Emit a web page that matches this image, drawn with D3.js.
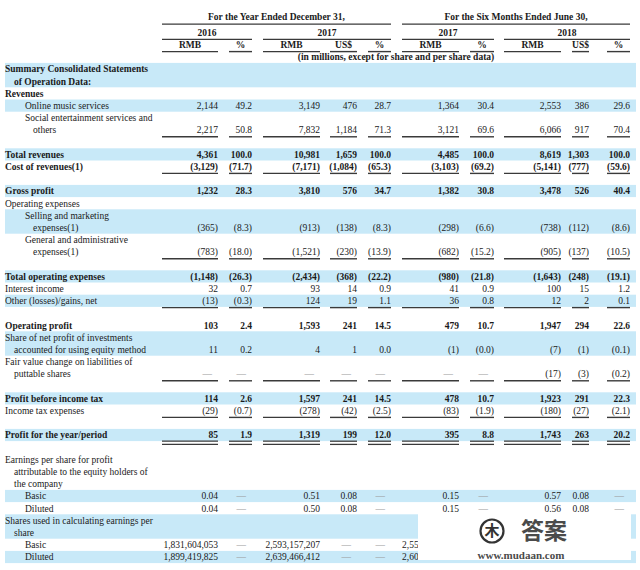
<!DOCTYPE html>
<html lang="en">
<head>
<meta charset="UTF-8">
<title>Summary Consolidated Statements of Operation Data</title>
<script src="https://d3js.org/d3.v7.min.js"></script>
<style>
  body { margin: 0; background: #fff; }
  svg text { font-family: "Liberation Serif", "Times New Roman", serif; font-size: 9.5px; fill: #1a1a1a; }
  .bold { font-weight: bold; }
</style>
</head>
<body>
<svg width="640" height="570"></svg>
<script>
// ---- data ----
const colKeys = ["y16rmb", "y16pct", "y17rmb", "y17usd", "y17pct", "h17rmb", "h17pct", "h18rmb", "h18usd", "h18pct"];
const colUnits = ["RMB", "%", "RMB", "US$", "%", "RMB", "%", "RMB", "US$", "%"];
const periodGroups = [
  { text: "For the Year Ended December 31,", from: "y16rmb", to: "y17pct" },
  { text: "For the Six Months Ended June 30,", from: "h17rmb", to: "h18pct" }
];
const yearGroups = [
  { text: "2016", from: "y16rmb", to: "y16pct" },
  { text: "2017", from: "y17rmb", to: "y17pct" },
  { text: "2017", from: "h17rmb", to: "h17pct" },
  { text: "2018", from: "h18rmb", to: "h18pct" }
];
const unitNote = "(in millions, except for share and per share data)";

const rowLabels = [
  ["Summary Consolidated Statements", "of Operation Data:"],
  ["Revenues"],
  ["Online music services"],
  ["Social entertainment services and", "others"],
  ["Total revenues"],
  ["Cost of revenues(1)"],
  ["Gross profit"],
  ["Operating expenses"],
  ["Selling and marketing", "expenses(1)"],
  ["General and administrative", "expenses(1)"],
  ["Total operating expenses"],
  ["Interest income"],
  ["Other (losses)/gains, net"],
  ["Operating profit"],
  ["Share of net profit of investments", "accounted for using equity method"],
  ["Fair value change on liabilities of", "puttable shares"],
  ["Profit before income tax"],
  ["Income tax expenses"],
  ["Profit for the year/period"],
  ["Earnings per share for profit", "attributable to the equity holders of", "the company"],
  ["Basic"],
  ["Diluted"],
  ["Shares used in calculating earnings per", "share"],
  ["Basic"],
  ["Diluted"]
];
// indent level of every label line
const labelLevels = [
  [0, 1], [0], [2], [2, 3], [0], [0], [0], [0], [2, 3], [2, 3], [0], [0], [0], [0],
  [0, 1], [0, 1], [0], [0], [0], [0, 1, 1], [2], [2], [0, 1], [2], [2]
];

const D = "—";
const rowValues = [
  null,
  null,
  ["2,144", "49.2", "3,149", "476", "28.7", "1,364", "30.4", "2,553", "386", "29.6"],
  ["2,217", "50.8", "7,832", "1,184", "71.3", "3,121", "69.6", "6,066", "917", "70.4"],
  ["4,361", "100.0", "10,981", "1,659", "100.0", "4,485", "100.0", "8,619", "1,303", "100.0"],
  ["(3,129)", "(71.7)", "(7,171)", "(1,084)", "(65.3)", "(3,103)", "(69.2)", "(5,141)", "(777)", "(59.6)"],
  ["1,232", "28.3", "3,810", "576", "34.7", "1,382", "30.8", "3,478", "526", "40.4"],
  null,
  ["(365)", "(8.3)", "(913)", "(138)", "(8.3)", "(298)", "(6.6)", "(738)", "(112)", "(8.6)"],
  ["(783)", "(18.0)", "(1,521)", "(230)", "(13.9)", "(682)", "(15.2)", "(905)", "(137)", "(10.5)"],
  ["(1,148)", "(26.3)", "(2,434)", "(368)", "(22.2)", "(980)", "(21.8)", "(1,643)", "(248)", "(19.1)"],
  ["32", "0.7", "93", "14", "0.9", "41", "0.9", "100", "15", "1.2"],
  ["(13)", "(0.3)", "124", "19", "1.1", "36", "0.8", "12", "2", "0.1"],
  ["103", "2.4", "1,593", "241", "14.5", "479", "10.7", "1,947", "294", "22.6"],
  ["11", "0.2", "4", "1", "0.0", "(1)", "(0.0)", "(7)", "(1)", "(0.1)"],
  [D, D, D, D, D, D, D, "(17)", "(3)", "(0.2)"],
  ["114", "2.6", "1,597", "241", "14.5", "478", "10.7", "1,923", "291", "22.3"],
  ["(29)", "(0.7)", "(278)", "(42)", "(2.5)", "(83)", "(1.9)", "(180)", "(27)", "(2.1)"],
  ["85", "1.9", "1,319", "199", "12.0", "395", "8.8", "1,743", "263", "20.2"],
  null,
  ["0.04", D, "0.51", "0.08", D, "0.15", D, "0.57", "0.08", D],
  ["0.04", D, "0.50", "0.08", D, "0.15", D, "0.56", "0.08", D],
  null,
  ["1,831,604,053", D, "2,593,157,207", D, D, "2,55", null, null, null, null],
  ["1,899,419,825", D, "2,639,466,412", D, D, "2,60", null, null, null, null]
];
// cells that are cut off by the watermark (only the start is readable)
const cutCells = ["23-5", "24-5"];

const boldRows = [0, 1, 4, 5, 6, 10, 13, 16, 18];
const gapAfter = [3, 5, 9, 12, 15, 17, 18];
const ruleRows = [3, 5, 9, 12, 15, 17];
const doubleRuleRows = [18];

// ---- layout ----
const svg = d3.select("svg");
const colRight = d3.scaleOrdinal().domain(colKeys).range([218, 252, 320, 357, 391, 459, 494, 561, 589, 630]);
const colLeft = d3.scaleOrdinal().domain(colKeys).range([162, 229, 263, 330, 368, 402, 470, 504, 572, 607]);
const indent = d3.scaleOrdinal().domain([0, 1, 2, 3]).range([5, 14, 25, 33]);
const y = d3.scaleLinear().domain([0, 40]).range([69, 557]);
const lineH = y(1) - y(0);
const bandColor = "#c8e9f8";
const ruleColor = "#3a3a3a";

// work out first line of every row
let line = 0;
const rows = rowLabels.map((lab, i) => {
  const r = { i, first: line, last: line + lab.length - 1 };
  line += lab.length;
  if (gapAfter.includes(i)) line += 1;
  return r;
});

// bands on alternating rows
svg.append("g").selectAll("rect")
  .data(rows.filter(r => r.i % 2 === 0))
  .join("rect")
  .attr("x", 5)
  .attr("width", 631)
  .attr("y", r => y(r.first) - lineH / 2)
  .attr("height", r => (r.last - r.first + 1) * lineH)
  .attr("fill", bandColor);

// header
const head = svg.append("g");
function spanMid(g) { return (colLeft(g.from) + colRight(g.to)) / 2; }
function headerRow(groups, yy) {
  head.selectAll(null).data(groups).join("text")
    .attr("class", "bold")
    .attr("x", spanMid).attr("y", yy).attr("dy", "0.35em")
    .attr("text-anchor", "middle").text(g => g.text);
  head.selectAll(null).data(groups).join("line")
    .attr("x1", g => colLeft(g.from)).attr("x2", g => colRight(g.to))
    .attr("y1", yy + 7).attr("y2", yy + 7)
    .attr("stroke", ruleColor).attr("stroke-width", 1.4);
}
headerRow(periodGroups, y(-4.25));
headerRow(yearGroups, y(-3));
headerRow(colKeys.map((k, i) => ({ text: colUnits[i], from: k, to: k })), y(-2));
head.append("text")
  .attr("class", "bold")
  .attr("x", (colLeft("y16rmb") + colRight("h18pct")) / 2)
  .attr("y", y(-1)).attr("dy", "0.35em")
  .attr("text-anchor", "middle").text(unitNote);

// labels
const labG = svg.append("g");
rows.forEach(r => {
  labG.selectAll(null)
    .data(rowLabels[r.i])
    .join("text")
    .attr("class", boldRows.includes(r.i) ? "bold" : null)
    .attr("x", (d, j) => indent(labelLevels[r.i][j]))
    .attr("y", (d, j) => y(r.first + j))
    .attr("dy", "0.35em")
    .text(d => d);
});

// values
const valG = svg.append("g");
rows.forEach(r => {
  const vals = rowValues[r.i];
  if (!vals) return;
  const cells = colKeys.map((k, j) => ({ k, v: vals[j], cut: cutCells.includes(r.i + "-" + j) }))
    .filter(c => c.v !== null);
  valG.selectAll(null)
    .data(cells)
    .join("text")
    .attr("class", boldRows.includes(r.i) ? "bold" : null)
    .attr("x", c => c.cut ? colLeft(c.k) : colRight(c.k) - (c.v === D ? 6 : 0))
    .attr("y", y(r.last))
    .attr("dy", "0.35em")
    .attr("text-anchor", c => c.cut ? "start" : "end")
    .style("fill", c => c.v === D ? "#9a9a9a" : null)
    .text(c => c.v);
});

// underlines below rows
const ruleG = svg.append("g");
ruleRows.forEach(i => {
  const yy = y(rows[i].last) + 6.8;
  ruleG.selectAll(null).data(colKeys).join("line")
    .attr("x1", k => colLeft(k)).attr("x2", k => colRight(k))
    .attr("y1", yy).attr("y2", yy)
    .attr("stroke", ruleColor).attr("stroke-width", 1.4);
});
doubleRuleRows.forEach(i => {
  [6.2, 9.4].forEach(off => {
    const yy = y(rows[i].last) + off;
    ruleG.selectAll(null).data(colKeys).join("line")
      .attr("x1", k => colLeft(k)).attr("x2", k => colRight(k))
      .attr("y1", yy).attr("y2", yy)
      .attr("stroke", ruleColor).attr("stroke-width", 1.3);
  });
});

// watermark box in the lower right corner
const wm = svg.append("g");
wm.append("rect").attr("x", 418).attr("y", 514).attr("width", 213).attr("height", 46).attr("fill", "#fff");
wm.append("circle").attr("cx", 492).attr("cy", 531).attr("r", 11.5)
  .attr("fill", "none").attr("stroke", "#333").attr("stroke-width", 2.2);
wm.append("text").attr("x", 492).attr("y", 531).attr("dy", "0.36em")
  .attr("text-anchor", "middle")
  .style("font-family", "'Noto Sans CJK SC', sans-serif").style("font-size", "15px")
  .style("font-weight", "bold").style("fill", "#333").text("木");
wm.append("text").attr("x", 544).attr("y", 531).attr("dy", "0.36em")
  .attr("text-anchor", "middle")
  .style("font-family", "'Noto Sans CJK SC', sans-serif").style("font-size", "23px")
  .style("font-weight", "bold").style("fill", "#4a4a4a").text("答案");
wm.append("text").attr("x", 521).attr("y", 555).attr("dy", "0.35em")
  .attr("text-anchor", "middle")
  .style("font-family", "'Liberation Serif', serif").style("font-size", "11px")
  .style("font-weight", "bold").style("fill", "#4a4a4a").text("www.mudaan.com");
</script>
</body>
</html>
